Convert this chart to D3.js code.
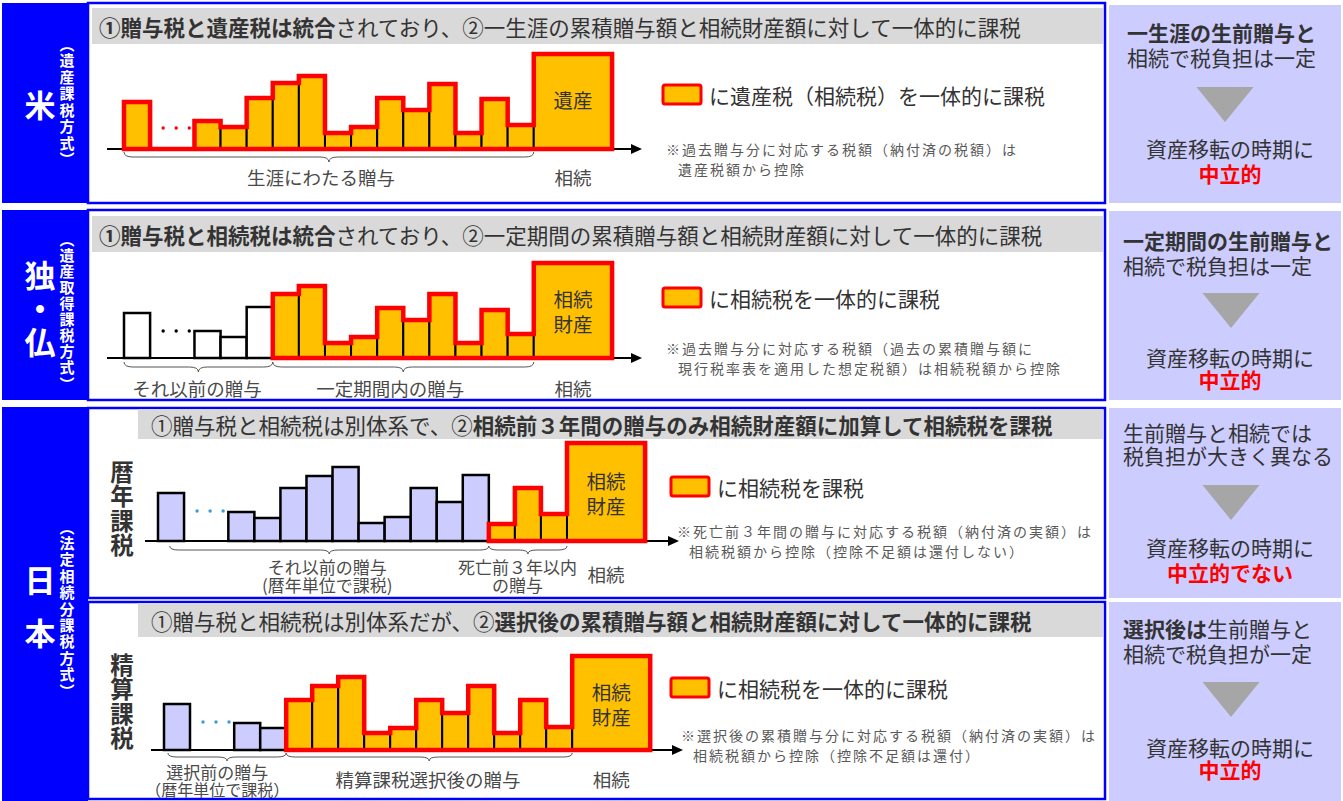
<!DOCTYPE html>
<html>
<head>
<meta charset="utf-8">
<script src="https://cdn.jsdelivr.net/npm/d3@7"></script>
<style>
  body { margin: 0; background: #fff; }
  text { font-family: "Noto Sans CJK JP", "Noto Sans", sans-serif; }
</style>
</head>
<body>
<svg id="chart"></svg>
<script>
// ---- data ----
const countryLabels = ["米", "独・仏", "日本"];
const methodLabels = ["（遺産課税方式）", "（遺産取得課税方式）", "（法定相続分課税方式）"];

// gift amounts (bar heights) for each scheme, 14 gifts then the estate
const usGifts = [47, 28, 22, 51, 66, 73, 16, 22, 51, 39, 65, 16, 50, 24];
const deGifts = [45, 27, 21, 51, 64, 72, 15, 21, 50, 38, 64, 15, 48, 24];
const jpAnnualGifts = [48, 29, 23, 53, 65, 74, 18, 24, 53, 39, 66, 17, 53, 27];
const jpSettleGifts = [46, 27, 22, 50, 64, 73, 17, 22, 50, 37, 64, 17, 50, 23];
const estateAmounts = [95, 95, 98, 94];
const taxedFrom = [0, 4, 11, 3]; // first gift summed with the estate
const estateNames = [["遺産"], ["相続", "財産"], ["相続", "財産"], ["相続", "財産"]];
const sideNames = [null, null, "暦年課税", "精算課税"];

const titles = [
  [["①贈与税と遺産税は統合", true], ["されており、②一生涯の累積贈与額と相続財産額に対して一体的に課税", false]],
  [["①贈与税と相続税は統合", true], ["されており、②一定期間の累積贈与額と相続財産額に対して一体的に課税", false]],
  [["①贈与税と相続税は別体系で、②", false], ["相続前３年間の贈与のみ相続財産額に加算して相続税を課税", true]],
  [["①贈与税と相続税は別体系だが、②", false], ["選択後の累積贈与額と相続財産額に対して一体的に課税", true]]
];
const legendTexts = ["に遺産税（相続税）を一体的に課税", "に相続税を一体的に課税", "に相続税を課税", "に相続税を一体的に課税"];
const notes = [
  ["※過去贈与分に対応する税額（納付済の税額）は", "遺産税額から控除"],
  ["※過去贈与分に対応する税額（過去の累積贈与額に", "現行税率表を適用した想定税額）は相続税額から控除"],
  ["※死亡前３年間の贈与に対応する税額（納付済の実額）は", "相続税額から控除（控除不足額は還付しない）"],
  ["※選択後の累積贈与分に対応する税額（納付済の実額）は", "相続税額から控除（控除不足額は還付）"]
];
// braces [from slot, to slot] and their labels
const braces = [
  [[0, 15.7]],
  [[0, 5.7], [5.7, 15.7]],
  [[0.45, 12.7], [12.7, 15.7]],
  [[0.15, 4.7], [4.7, 15.7]]
];
const braceLabels = [
  [{ at: 7.55, lines: ["生涯にわたる贈与"] }],
  [{ at: 2.8, lines: ["それ以前の贈与"] }, { at: 10.2, lines: ["一定期間内の贈与"] }],
  [{ at: 6.5, lines: ["それ以前の贈与", "(暦年単位で課税)"] }, { at: 13.8, lines: ["死亡前３年以内", "の贈与"] }],
  [{ at: 2.05, lines: ["選択前の贈与", "（暦年単位で課税）"] }, { at: 10.15, lines: ["精算課税選択後の贈与"] }]
];
const summaryLines = [
  [[["一生涯の生前贈与と", true]], [["相続で税負担は一定", false]]],
  [[["一定期間の生前贈与と", true]], [["相続で税負担は一定", false]]],
  [[["生前贈与と相続では", false]], [["税負担が大きく異なる", false]]],
  [[["選択後は", true], ["生前贈与と", false]], [["相続で税負担が一定", false]]]
];
const timingText = "資産移転の時期に";
const verdicts = ["中立的", "中立的", "中立的でない", "中立的"];

// ---- layout ----
const W = 1343, H = 801;
const BLUE = "#0000ff", ORANGE = "#ffc000", RED = "#ff0000", LAV = "#ccccff", TXT = "#404040";
const GAP = 1.7; // extra slots for the "・・・" gap after the first gift

const layout = [
  { top: 3, h: 200, tx: 92, ty: 8, th: 36, textX: 99, base: 149, x0: 124, slot: 26.1, axisL: 107, axisR: 642,
    plain: "#fff", dot: RED, dotLv: 21, braceY: 152, labelY: 177, lgX: 663, lgY: 85, noteX: 666, noteY: 149 },
  { top: 210, h: 190, tx: 92, ty: 216, th: 36, textX: 99, base: 358, x0: 124, slot: 26.1, axisL: 107, axisR: 642,
    plain: "#fff", dot: "#000", dotLv: 27, braceY: 362, labelY: 388, lgX: 663, lgY: 288, noteX: 666, noteY: 348 },
  { top: 408, h: 190, tx: 138, ty: 409, th: 30, textX: 151, base: 541, x0: 158, slot: 26.05, axisL: 145, axisR: 679,
    plain: LAV, dot: "#3b9bd6", dotLv: 30, braceY: 546, labelY: 566, lgX: 671, lgY: 477, noteX: 677, noteY: 531 },
  { top: 602, h: 197, tx: 138, ty: 603, th: 34, textX: 151, base: 750, x0: 164, slot: 26.0, axisL: 151, axisR: 683,
    plain: LAV, dot: "#3b9bd6", dotLv: 28, braceY: 753, labelY: 771, lgX: 671, lgY: 678, noteX: 681, noteY: 735 }
];
const giftSets = [usGifts, deGifts, jpAnnualGifts, jpSettleGifts];

const svg = d3.select("#chart").attr("width", W).attr("height", H);

// one <text> holding several lines; each line is a list of [string, bold] segments
function multiText(parent, x, y0, lines, step, size, color, anchor, xs) {
  const t = parent.append("text")
    .attr("dominant-baseline", "central")
    .attr("font-size", size)
    .attr("fill", color || TXT)
    .attr("text-anchor", anchor || "start");
  lines.forEach((segs, j) => {
    segs.forEach(([s, b], n) => {
      const sp = t.append("tspan").attr("font-weight", b ? 700 : 400).text(s);
      if (n === 0) sp.attr("x", xs ? xs[j] : x).attr("y", y0 + j * step);
    });
  });
  return t;
}
const plainLines = arr => arr.map(s => [[s, false]]);

// top-to-bottom text; y0 = centre of the first character
function vText(parent, x, y0, str, size, step, color) {
  return parent.append("text")
    .attr("x", x).attr("y", y0 - size / 2)
    .style("writing-mode", "vertical-rl")
    .attr("font-size", size).attr("font-weight", 700)
    .attr("letter-spacing", step - size)
    .attr("fill", color).text(str);
}

function bracePath(x1, x2, yy, h) {
  const m = (x1 + x2) / 2, r = Math.min(9, (x2 - x1) / 5);
  const p = d3.path();
  p.moveTo(x1, yy);
  p.quadraticCurveTo(x1, yy + h / 2, x1 + r, yy + h / 2);
  p.lineTo(m - r, yy + h / 2);
  p.quadraticCurveTo(m, yy + h / 2, m, yy + h);
  p.quadraticCurveTo(m, yy + h / 2, m + r, yy + h / 2);
  p.lineTo(x2 - r, yy + h / 2);
  p.quadraticCurveTo(x2, yy + h / 2, x2, yy);
  return p.toString();
}

// ---- left column ----
const leftBoxes = [{ y: 3, h: 200, cy: 105, cstep: 31, my: 44, step: 16.5 },
                   { y: 210, h: 190, cy: 275, cstep: 33.5, my: 239, step: 16.1 },
                   { y: 407, h: 394, cy: 580, cstep: 53, my: 527, step: 16.4 }];
leftBoxes.forEach((b, i) => {
  svg.append("rect").attr("x", 2).attr("y", b.y).attr("width", 86).attr("height", b.h).attr("fill", BLUE);
  vText(svg, 40, b.cy, countryLabels[i], 31, b.cstep, "#fff");
  vText(svg, 67, b.my, methodLabels[i], 15, b.step, "#fff");
});

// ---- middle panels ----
layout.forEach((L, k) => {
  const g = svg.append("g");
  g.append("rect").attr("x", 88).attr("y", L.top).attr("width", 1017).attr("height", L.h)
    .attr("fill", "#fff").attr("stroke", BLUE).attr("stroke-width", 2.5);
  g.append("rect").attr("x", L.tx).attr("y", L.ty).attr("width", 1103 - L.tx).attr("height", L.th)
    .attr("fill", "#d9d9d9");
  multiText(g, L.textX, L.ty + L.th / 2, [titles[k]], 0, 21.5, "#333");

  const x = d3.scaleLinear().domain([0, 1]).range([L.x0, L.x0 + L.slot]);
  const y = d3.scaleLinear().domain([0, 100]).range([L.base, L.base - 100]);
  const slotOf = i => (i === 0 ? 0 : i + GAP);
  const gifts = giftSets[k];
  const bars = gifts.map((v, i) => ({ x1: x(slotOf(i)), x2: x(slotOf(i) + 1), top: y(v), taxed: i >= taxedFrom[k] }));
  const estateStart = slotOf(gifts.length - 1) + 1;
  const estate = { x1: x(estateStart), x2: x(estateStart + 3), top: y(estateAmounts[k]), taxed: true };

  // axis with arrow
  g.append("line").attr("x1", L.axisL).attr("x2", L.axisR - 8).attr("y1", L.base).attr("y2", L.base)
    .attr("stroke", "#000").attr("stroke-width", 2);
  g.append("path")
    .attr("d", d3.line()([[L.axisR, L.base], [L.axisR - 11, L.base - 5], [L.axisR - 11, L.base + 5]]) + "Z")
    .attr("fill", "#000");

  // plain (separately taxed) gifts
  g.selectAll(".plain").data(bars.filter(d => !d.taxed)).enter().append("rect")
    .attr("x", d => d.x1).attr("y", d => d.top).attr("width", d => d.x2 - d.x1).attr("height", d => L.base - d.top)
    .attr("fill", L.plain).attr("stroke", "#000").attr("stroke-width", 2.5);

  // taxed gifts + estate
  const taxed = bars.filter(d => d.taxed).concat([estate]);
  g.selectAll(".taxed").data(taxed).enter().append("rect")
    .attr("x", d => d.x1).attr("y", d => d.top).attr("width", d => d.x2 - d.x1).attr("height", d => L.base - d.top)
    .attr("fill", ORANGE).attr("stroke", "#000").attr("stroke-width", 2);

  // red outline round the taxed block
  const pts = [[taxed[0].x1, L.base]];
  taxed.forEach((d, j) => {
    if (j > 0 && d.x1 > taxed[j - 1].x2 + 0.5) pts.push([taxed[j - 1].x2, L.base], [d.x1, L.base]);
    pts.push([d.x1, d.top], [d.x2, d.top]);
  });
  pts.push([estate.x2, L.base]);
  g.append("path").attr("d", d3.line()(pts) + "Z").attr("fill", "none")
    .attr("stroke", RED).attr("stroke-width", 4.5).attr("stroke-linejoin", "miter");

  // estate name
  const names = estateNames[k];
  const ecx = (estate.x1 + estate.x2) / 2;
  const ecy = (estate.top + L.base) / 2 - (names.length === 1 ? 3 : 12.5);
  multiText(g, ecx, ecy, plainLines(names), 25, 19.5, "#333", "middle");

  // gap dots
  g.selectAll(".dot").data([1.5, 2.0, 2.5]).enter().append("circle")
    .attr("cx", d => x(d)).attr("cy", y(L.dotLv)).attr("r", 1.7).attr("fill", L.dot);

  // braces and labels
  braces[k].forEach(([a, b]) => {
    g.append("path").attr("d", bracePath(x(a), x(b), L.braceY, k >= 2 ? 8 : 10))
      .attr("fill", "none").attr("stroke", "#555").attr("stroke-width", 1);
  });
  braceLabels[k].forEach(lb => {
    const two = lb.lines.length === 2;
    if (two) {
      const t = multiText(g, x(lb.at), L.labelY, plainLines(lb.lines), 17.5, 17, "#4a4a4a", "middle");
      if (k === 3) t.selectAll("tspan").filter((d, n) => n === 1).attr("font-size", 16);
    } else {
      multiText(g, x(lb.at), k >= 2 ? L.labelY + 8 : L.labelY, plainLines(lb.lines), 0, 18.5, "#4a4a4a", "middle");
    }
  });
  multiText(g, ecx, k < 2 ? L.labelY : L.labelY + 8, plainLines(["相続"]), 0, 18.5, "#4a4a4a", "middle");

  // vertical side name (Japan rows)
  if (sideNames[k]) vText(g, 122, k === 2 ? 472 : 665, sideNames[k], 23.5, 24.5, "#333");

  // legend + note
  g.append("rect").attr("x", L.lgX).attr("y", L.lgY).attr("width", 38).attr("height", 19).attr("rx", 2)
    .attr("fill", ORANGE).attr("stroke", RED).attr("stroke-width", 3);
  multiText(g, L.lgX + 46, L.lgY + 10, plainLines([legendTexts[k]]), 0, 21, "#333");
  multiText(g, L.noteX, L.noteY, plainLines(notes[k]), 19.5, 14, "#595959", "start", [L.noteX, L.noteX + 12])
    .attr("letter-spacing", 2);
});

// ---- right column ----
const rightBoxes = [
  { y: 5, h: 198, l1: 32, tri: 87, tx: 1225, timing: 148, verdict: 173 },
  { y: 211, h: 189, l1: 240, tri: 293, tx: 1231, timing: 357, verdict: 379 },
  { y: 408, h: 190, l1: 432, tri: 485, tx: 1231, timing: 547, verdict: 572 },
  { y: 602, h: 199, l1: 628, tri: 682, tx: 1231, timing: 747, verdict: 769 }
];
rightBoxes.forEach((b, i) => {
  svg.append("rect").attr("x", 1109).attr("y", b.y).attr("width", 232).attr("height", b.h).attr("fill", LAV);
  multiText(svg, i === 0 ? 1127 : 1123, b.l1, summaryLines[i], i === 2 ? 23 : 25, 21, "#333");
  svg.append("path")
    .attr("d", d3.line()([[b.tx - 28.5, b.tri], [b.tx + 28.5, b.tri], [b.tx, b.tri + 35]]) + "Z")
    .attr("fill", "#a6a6a6");
  const t = multiText(svg, 1230, b.timing, [[[timingText, false]], [[verdicts[i], true]]],
    b.verdict - b.timing, 21, "#333", "middle");
  t.selectAll("tspan").filter((d, n) => n === 1).attr("fill", RED);
});
</script>
</body>
</html>
